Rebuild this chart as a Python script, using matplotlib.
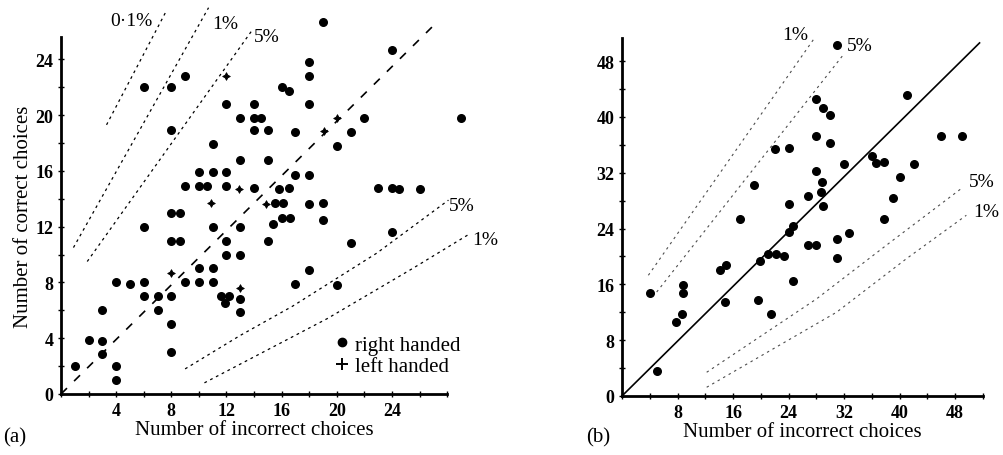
import matplotlib
matplotlib.use("Agg")
import matplotlib.pyplot as plt
from matplotlib.lines import Line2D
from matplotlib.ticker import MultipleLocator

plt.rcParams['font.family'] = ['Liberation Serif', 'DejaVu Serif']

# ---- panel (a): right handed subjects (incorrect, correct)
a_right_x = [6, 8, 9, 12, 14, 13, 14, 14.5, 14, 15, 17, 8, 18, 16, 16.5, 18, 18, 19, 24,
             22, 21, 20, 29, 17, 18, 15, 13, 11, 10, 11, 12, 9, 10, 10.6, 12, 14, 15.8,
             16.5, 15.5, 16.1, 18, 19, 16, 16.6, 19, 15.4, 23, 24, 24.5, 26, 24, 8, 8.6,
             6, 11, 13, 15, 21, 18, 17, 20, 1, 2, 3, 3, 3, 4, 4, 4, 5, 6, 6, 7, 7, 8, 8,
             8, 8, 8.6, 9, 10, 11, 10, 11, 12, 12, 13, 11.6, 12.2, 11.9, 13, 13]
a_right_y = [22, 22, 22.8, 20.8, 20.8, 19.8, 19.8, 19.8, 18.9, 18.9, 18.8, 18.9, 20.8, 22,
             21.7, 23.8, 22.8, 26.7, 24.7, 19.8, 18.8, 17.8, 19.8, 15.7, 15.7, 16.8, 16.8,
             17.9, 15.9, 15.9, 15.9, 14.9, 14.9, 14.9, 14.9, 14.8, 14.7, 14.8, 13.7, 13.7,
             13.6, 13.7, 12.6, 12.6, 12.5, 12.2, 14.8, 14.8, 14.7, 14.7, 11.6, 13, 13, 12,
             12, 12, 11, 10.8, 8.9, 7.9, 7.8, 2, 3.9, 6, 3.8, 2.9, 2, 1, 8, 7.9, 8, 7, 7,
             6, 7, 5, 3, 11, 11, 8, 8, 8, 9, 9, 11, 10, 10, 7, 7, 6.5, 6.8, 5.9]
# left handed subjects
a_left_x = [12, 20, 19.1, 14.9, 12.9, 10.9, 8, 13]
a_left_y = [22.8, 19.8, 18.85, 13.6, 14.7, 13.7, 8.7, 7.6]

# significance contours
a_p01_x, a_p01_y = [3.3, 7.6], [19.3, 27.4]
a_p1u_x, a_p1u_y = [0.9, 10.7], [10.5, 27.7]
a_p5u_x, a_p5u_y = [1.9, 13.8], [9.5, 26.0]
a_p5l_x, a_p5l_y = [9.0, 13.0, 16.8, 22.9, 28.1], [1.8, 4.2, 6.3, 10.1, 13.9]
a_p1l_x, a_p1l_y = [10.4, 19.3, 25.5, 29.5], [0.8, 5.4, 9.0, 11.4]
a_diag_x, a_diag_y = [0, 27.2], [0, 26.6]

# ---- panel (b)
b_x = [22, 24, 19, 24, 17, 24.6, 31, 28, 29, 30, 41, 28, 30, 46, 49, 32, 36, 36.6, 37.7,
       42, 28, 28.8, 28.6, 26.8, 40, 39, 29, 37.7, 4, 8.8, 8.8, 7.8, 8.7, 5, 14.1, 15,
       14.8, 19.9, 21, 22.2, 23.3, 24, 19.6, 21.5, 24.6, 26.8, 27.9, 31, 31, 32.7]
b_y = [35.4, 35.5, 30.3, 27.5, 25.4, 24.4, 50.3, 42.5, 41.3, 40.2, 43.1, 37.3, 36.3, 37.3,
       37.3, 33.3, 34.4, 33.4, 33.6, 33.3, 32.3, 30.7, 29.3, 28.7, 31.4, 28.4, 27.3, 25.4,
       14.7, 15.9, 14.8, 10.6, 11.7, 3.6, 18.1, 18.8, 13.5, 19.3, 20.4, 20.4, 20.1, 23.5,
       13.7, 11.7, 16.5, 21.7, 21.7, 22.5, 19.8, 23.4]

b_p1u_x, b_p1u_y = [3.8, 27.8], [17.3, 51.4]
b_p5u_x, b_p5u_y = [5.0, 31.8], [14.9, 48.8]
b_p5l_x, b_p5l_y = [12.2, 28.0, 38.6, 49.1], [3.4, 13.9, 22.0, 29.9]
b_p1l_x, b_p1l_y = [12.2, 30.9, 41.0, 49.6], [1.25, 12.0, 19.7, 25.9]
b_diag_x, b_diag_y = [0, 51.5], [0, 50.6]

fig = plt.figure(figsize=(10.04, 4.56), dpi=100)
ax1 = fig.add_axes([0.0608, 0.1338, 0.3845, 0.7829])
ax2 = fig.add_axes([0.6195, 0.1294, 0.3596, 0.785])


def style_axes(ax, xmax, ymax, step, xlabels, ylabels):
    ax.set_xlim(0, xmax)
    ax.set_ylim(0, ymax)
    for s in ('top', 'right'):
        ax.spines[s].set_visible(False)
    for s in ('left', 'bottom'):
        ax.spines[s].set_linewidth(2)
    ax.xaxis.set_major_locator(plt.FixedLocator(xlabels))
    ax.yaxis.set_major_locator(plt.FixedLocator(ylabels))
    ax.xaxis.set_minor_locator(MultipleLocator(step))
    ax.yaxis.set_minor_locator(MultipleLocator(step))
    ax.tick_params(which='both', direction='inout', length=5, width=1, pad=3)
    for lab in ax.get_xticklabels() + ax.get_yticklabels():
        lab.set_fontweight('bold')
        lab.set_fontsize(13)
    ax.set_xlabel('Number of incorrect choices', fontsize=15, labelpad=1)


short = dict(color='black', lw=0.9, ls=(0, (2.2, 3)), clip_on=False)

# panel (a)
ax1.scatter(a_right_x, a_right_y, s=30, color='black', clip_on=False, zorder=3)
ax1.scatter(a_left_x, a_left_y, s=30, marker=(4, 1, 0), color='black', lw=0.6,
            clip_on=False, zorder=3)
ax1.plot(a_diag_x, a_diag_y, color='black', lw=1.2, ls=(0, (5, 6)), clip_on=False)
for xs, ys in [(a_p01_x, a_p01_y), (a_p1u_x, a_p1u_y), (a_p5u_x, a_p5u_y),
               (a_p5l_x, a_p5l_y), (a_p1l_x, a_p1l_y)]:
    ax1.plot(xs, ys, **short)
style_axes(ax1, 28, 25.6, 2, [4, 8, 12, 16, 20, 24], [0, 4, 8, 12, 16, 20, 24])
ax1.set_ylabel('Number of correct choices', fontsize=15, labelpad=2)
lab_kw = dict(fontsize=14, ha='center', va='center', clip_on=False)
ax1.text(5.1, 26.8, '0·1%', **lab_kw)
ax1.text(11.9, 26.6, '1%', **lab_kw)
ax1.text(14.9, 25.6, '5%', **lab_kw)
ax1.text(29.1, 13.5, '5%', **lab_kw)
ax1.text(30.8, 11.1, '1%', **lab_kw)
handles = [Line2D([], [], ls='none', marker='o', color='black', markersize=6),
           Line2D([], [], ls='none', marker='+', color='black', markersize=8, mew=1.4)]
ax1.legend(handles, ['right handed', 'left handed'], loc='lower left',
           bbox_to_anchor=(0.685, 0.02), frameon=False, fontsize=15,
           handlelength=0.6, handletextpad=0.3, labelspacing=0.1, borderpad=0)
fig.text(0.015, 0.04, '(a)', fontsize=15, ha='center', va='center')

# panel (b)
ax2.scatter(b_x, b_y, s=30, color='black', clip_on=False, zorder=3)
ax2.plot(b_diag_x, b_diag_y, color='black', lw=1.2, clip_on=False)
for xs, ys in [(b_p1u_x, b_p1u_y), (b_p5u_x, b_p5u_y), (b_p5l_x, b_p5l_y),
               (b_p1l_x, b_p1l_y)]:
    ax2.plot(xs, ys, color='0.3', lw=0.8, ls=(0, (2.2, 3.5)), clip_on=False)
style_axes(ax2, 52, 51.3, 4, [8, 16, 24, 32, 40, 48], [0, 8, 16, 24, 32, 40, 48])
ax2.text(25.0, 51.8, '1%', **lab_kw)
ax2.text(34.2, 50.2, '5%', **lab_kw)
ax2.text(51.8, 30.7, '5%', **lab_kw)
ax2.text(52.5, 26.4, '1%', **lab_kw)
fig.text(0.596, 0.04, '(b)', fontsize=15, ha='center', va='center')

fig.savefig('out.png', dpi=100)
